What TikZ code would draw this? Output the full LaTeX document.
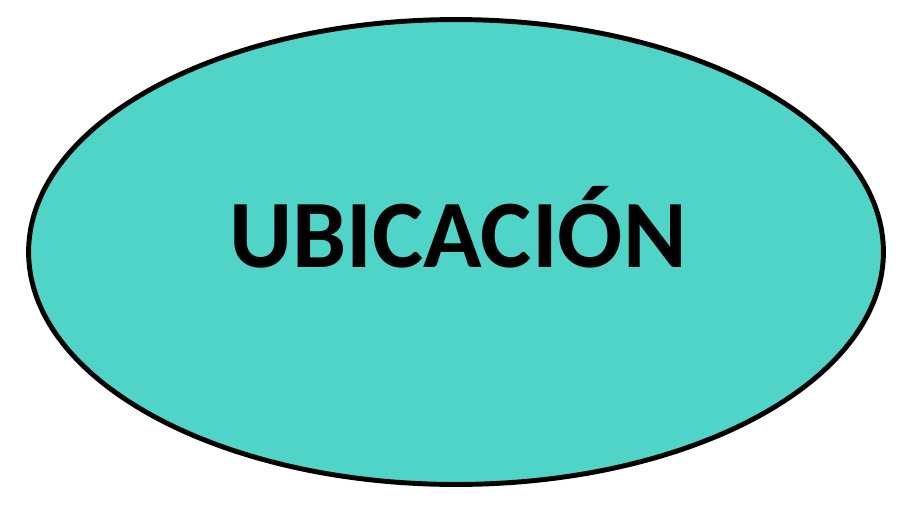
\documentclass[tikz,border=0pt]{standalone}
\usepackage{fontspec}
\setmainfont{Carlito}
\usepackage{xcolor}
\usepackage{tikz}
\usetikzlibrary{shapes.geometric}
\definecolor{ubturq}{RGB}{80,212,199}

\begin{document}
\begin{tikzpicture}[
  x=0.02cm, y=-0.02cm,
  base/.style  = {draw=black, line width=2.8pt, text=black},
  ubnd/.style  = {base, ellipse, fill=ubturq, inner sep=0pt,
                  minimum width=17.1cm, minimum height=9.3cm},
  lbl/.style   = {font=\fontsize{55}{60}\selectfont\bfseries, inner sep=0pt}
]
\useasboundingbox (0,0) rectangle (908,524);
\node[ubnd] (ubic) at (456,252) {};
\node[lbl, anchor=base] (ubictxt) at (458,267) {UBICACIÓN};
\end{tikzpicture}
\end{document}
